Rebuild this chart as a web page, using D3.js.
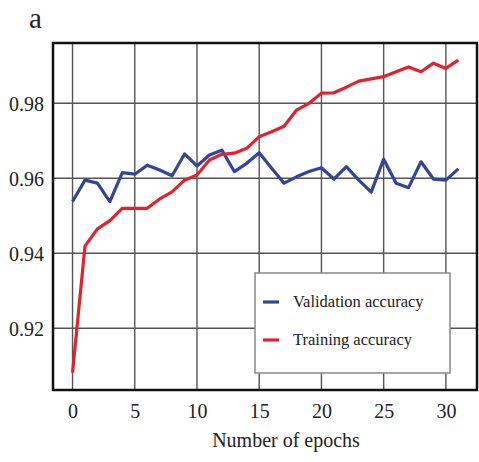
<!DOCTYPE html>
<html>
<head>
<meta charset="utf-8">
<script src="https://cdn.jsdelivr.net/npm/d3@7"></script>
<style>
  body { margin: 0; background: #fff; }
  text { font-family: "Liberation Serif", "Times New Roman", serif; fill: #222; }
</style>
</head>
<body>
<div id="plot"></div>
<script>
// data
const epochs = d3.range(0, 32);
const validation = [0.9538, 0.9595, 0.9587, 0.9538, 0.9615, 0.9611, 0.9635, 0.9622,
  0.9607, 0.9665, 0.9633, 0.9662, 0.9675, 0.9618, 0.9640, 0.9668, 0.9627, 0.9587,
  0.9604, 0.9618, 0.9628, 0.9598, 0.9631, 0.9595, 0.9563, 0.9651, 0.9587, 0.9575,
  0.9644, 0.9598, 0.9595, 0.9625];
const training = [0.9082, 0.9419, 0.9465, 0.9487, 0.9520, 0.9520, 0.9520, 0.9545,
  0.9564, 0.9595, 0.9609, 0.9649, 0.9664, 0.9667, 0.9680, 0.9711, 0.9724, 0.9739,
  0.9782, 0.9800, 0.9827, 0.9828, 0.9843, 0.9859, 0.9865, 0.9871, 0.9884, 0.9897,
  0.9884, 0.9907, 0.9893, 0.9915];
const xTicks = [0, 5, 10, 15, 20, 25, 30];
const yTicks = [0.92, 0.94, 0.96, 0.98];
const series = [
  {name: "Validation accuracy", values: validation, color: "#34449a"},
  {name: "Training accuracy", values: training, color: "#e3232c"}
];

const W = 479, H = 462;
const frame = {left: 53, right: 477, top: 43, bottom: 390};

const svg = d3.select("#plot")
  .append("svg")
    .attr("width", W)
    .attr("height", H);

const xScale = d3.scaleLinear()
  .domain([-1.57, 32.5])
  .range([frame.left, frame.right]);
const yScale = d3.scaleLinear()
  .domain([0.90355, 0.99608])
  .range([frame.bottom, frame.top]);

// grid
svg.append("g")
  .selectAll("line")
  .data(xTicks)
  .join("line")
    .attr("x1", d => xScale(d))
    .attr("x2", d => xScale(d))
    .attr("y1", frame.top)
    .attr("y2", frame.bottom)
    .attr("stroke", "#555")
    .attr("stroke-width", 1.4);

svg.append("g")
  .selectAll("line")
  .data(yTicks)
  .join("line")
    .attr("x1", frame.left)
    .attr("x2", frame.right)
    .attr("y1", d => yScale(d))
    .attr("y2", d => yScale(d))
    .attr("stroke", "#555")
    .attr("stroke-width", 1.4);

// axes (labels only, frame drawn below)
const xAxis = svg.append("g")
  .attr("transform", "translate(0," + frame.bottom + ")")
  .call(d3.axisBottom(xScale).tickValues(xTicks).tickSize(0).tickPadding(14));
const yAxis = svg.append("g")
  .attr("transform", "translate(" + frame.left + ",0)")
  .call(d3.axisLeft(yScale).tickValues(yTicks).tickSize(0).tickPadding(9)
          .tickFormat(d3.format(".2f")));
[xAxis, yAxis].forEach(a => {
  a.select(".domain").remove();
  a.selectAll("text")
    .attr("font-family", "Liberation Serif")
    .attr("font-size", 20)
    .attr("fill", "#222");
});
yAxis.selectAll("text").attr("dy", "0.36em");

// lines
const line = d3.line()
  .x((d, i) => xScale(epochs[i]))
  .y(d => yScale(d));

svg.append("g")
  .selectAll("path")
  .data(series)
  .join("path")
    .attr("d", d => line(d.values))
    .attr("fill", "none")
    .attr("stroke", d => d.color)
    .attr("stroke-width", 3.2)
    .attr("stroke-linejoin", "round");

// frame
svg.append("rect")
  .attr("x", frame.left)
  .attr("y", frame.top)
  .attr("width", frame.right - frame.left)
  .attr("height", frame.bottom - frame.top)
  .attr("fill", "none")
  .attr("stroke", "#111")
  .attr("stroke-width", 2.5);

// legend
const legend = svg.append("g")
  .attr("transform", "translate(255,273)");
legend.append("rect")
  .attr("width", 195)
  .attr("height", 100)
  .attr("fill", "#fff")
  .attr("stroke", "#888")
  .attr("stroke-width", 1.5);
const item = legend.selectAll("g")
  .data(series)
  .join("g")
    .attr("transform", (d, i) => "translate(0," + (29 + i * 38) + ")");
item.append("line")
  .attr("x1", 8)
  .attr("x2", 24)
  .attr("stroke", d => d.color)
  .attr("stroke-width", 3.2);
item.append("text")
  .attr("x", 38)
  .attr("dy", "0.33em")
  .attr("font-size", 16.5)
  .text(d => d.name);

// titles
svg.append("text")
  .attr("x", 286)
  .attr("y", 447)
  .attr("text-anchor", "middle")
  .attr("font-size", 20)
  .text("Number of epochs");

svg.append("text")
  .attr("x", 29)
  .attr("y", 28)
  .attr("font-size", 29)
  .text("a");
</script>
</body>
</html>
